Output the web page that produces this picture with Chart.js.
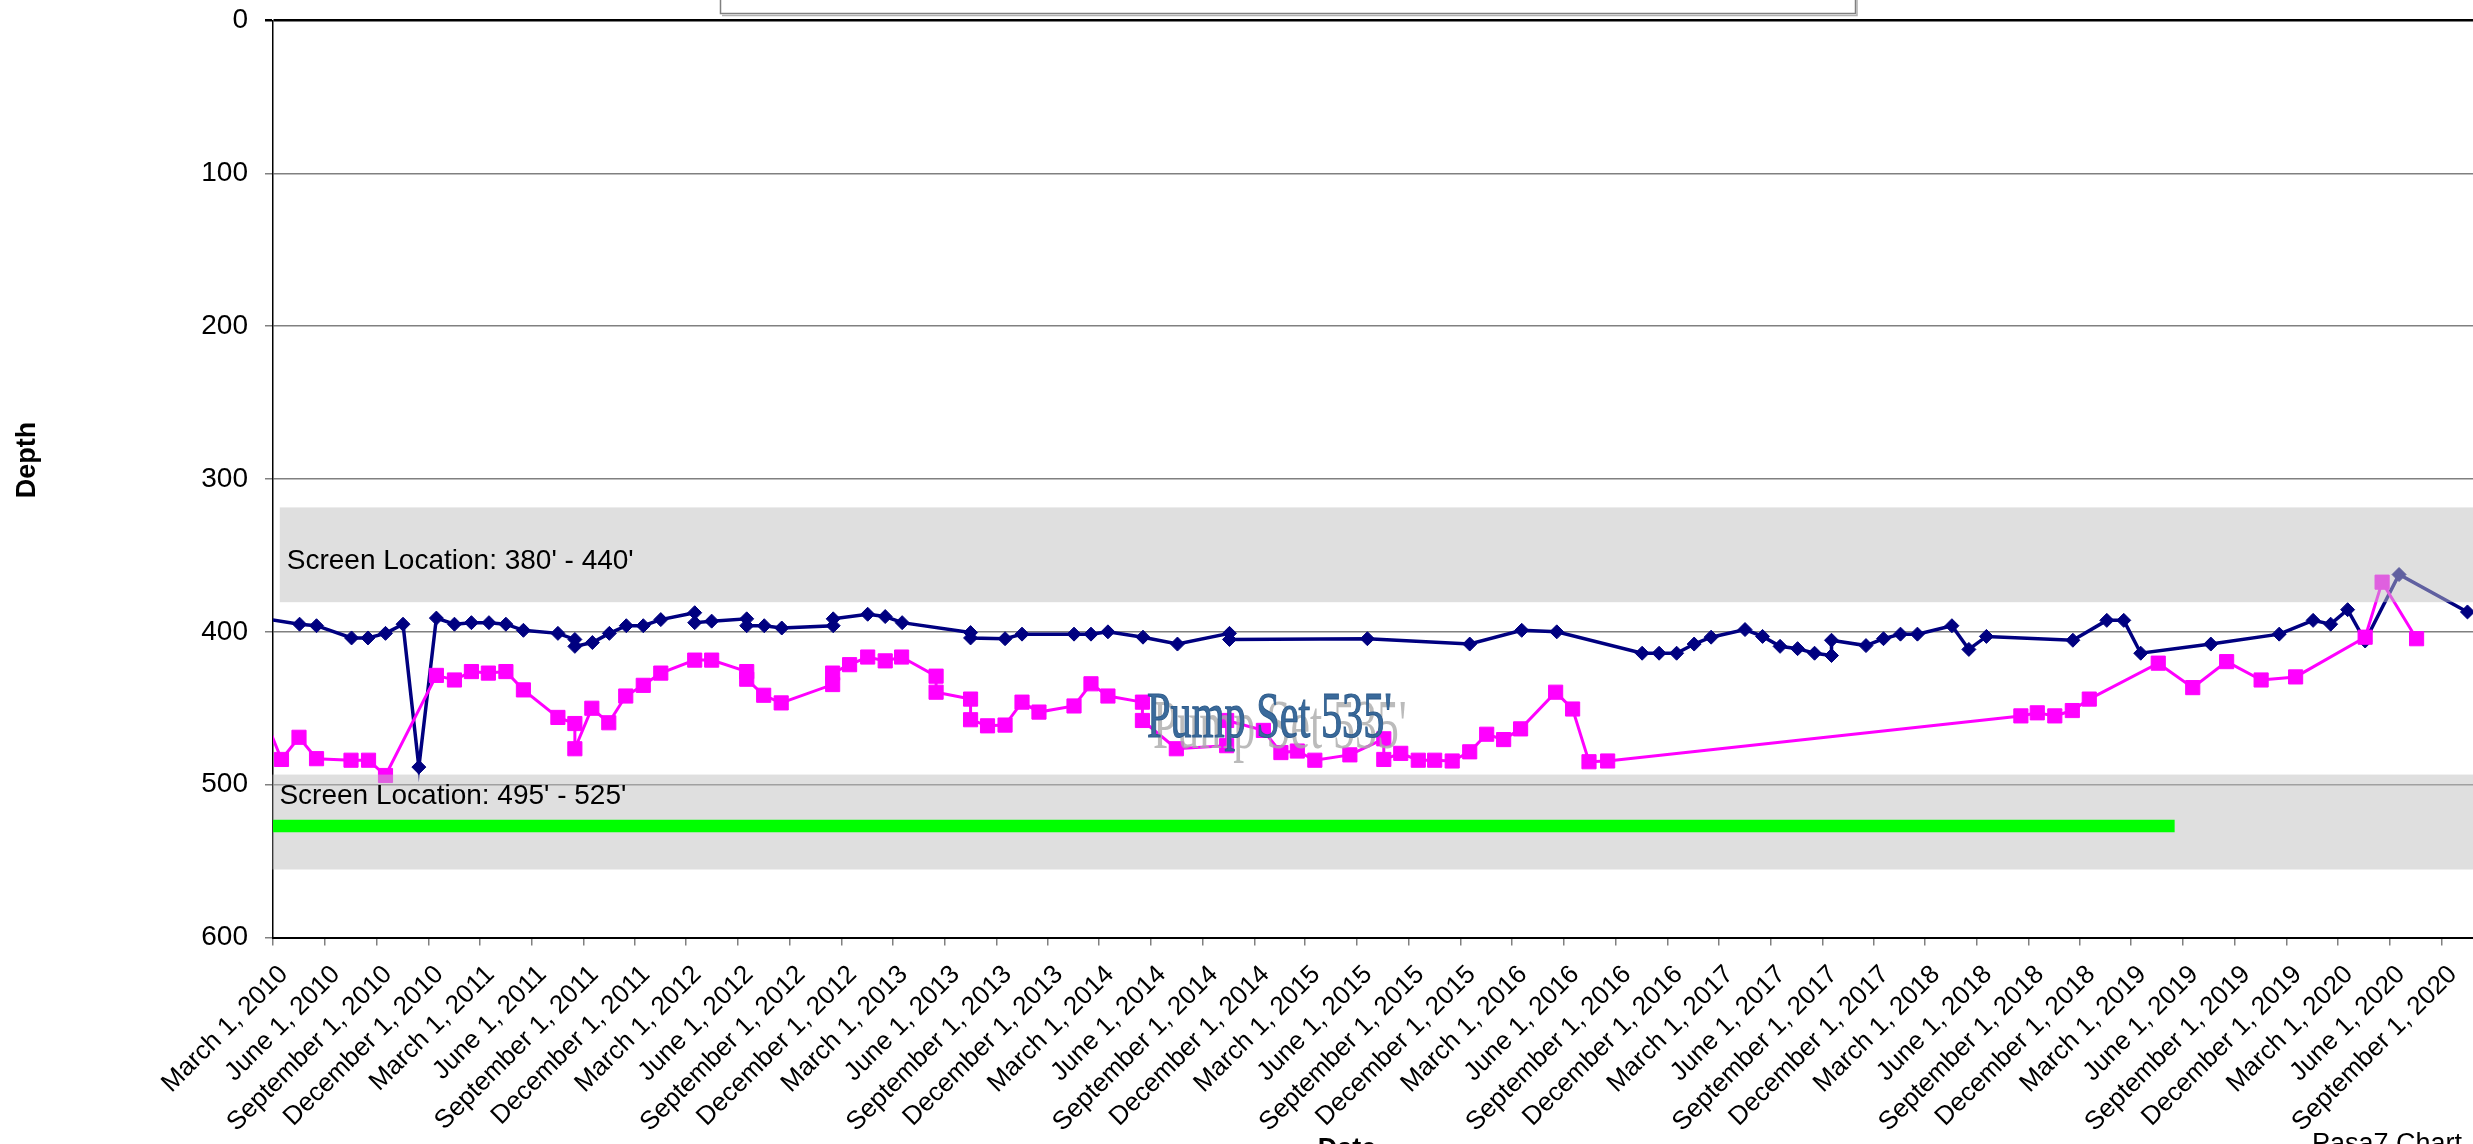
<!DOCTYPE html>
<html>
<head>
<meta charset="utf-8">
<script src="https://cdn.jsdelivr.net/npm/chart.js@4.4.1/dist/chart.umd.min.js"></script>
<style>
html,body{margin:0;padding:0;background:#fff;overflow:hidden}
canvas{display:block}
</style>
</head>
<body>
<canvas id="c" width="2473" height="1144"></canvas>
<script>
// ---------- data ----------
const tickLabels = [
 "March 1, 2010","June 1, 2010","September 1, 2010","December 1, 2010",
 "March 1, 2011","June 1, 2011","September 1, 2011","December 1, 2011",
 "March 1, 2012","June 1, 2012","September 1, 2012","December 1, 2012",
 "March 1, 2013","June 1, 2013","September 1, 2013","December 1, 2013",
 "March 1, 2014","June 1, 2014","September 1, 2014","December 1, 2014",
 "March 1, 2015","June 1, 2015","September 1, 2015","December 1, 2015",
 "March 1, 2016","June 1, 2016","September 1, 2016","December 1, 2016",
 "March 1, 2017","June 1, 2017","September 1, 2017","December 1, 2017",
 "March 1, 2018","June 1, 2018","September 1, 2018","December 1, 2018",
 "March 1, 2019","June 1, 2019","September 1, 2019","December 1, 2019",
 "March 1, 2020","June 1, 2020","September 1, 2020"
];
const depthTicks = [0,100,200,300,400,500,600];

const staticDates = [
 "2010-02-15","2010-04-17","2010-05-17","2010-07-18","2010-08-16","2010-09-16","2010-10-17","2010-11-14","2010-12-15",
 "2011-01-16","2011-02-15","2011-03-18","2011-04-17","2011-05-18","2011-07-18","2011-08-17","2011-08-17","2011-09-17",
 "2011-10-17","2011-11-16","2011-12-16","2012-01-16","2012-03-16","2012-03-16","2012-04-15","2012-06-16","2012-06-16",
 "2012-07-17","2012-08-17","2012-11-16","2012-11-16","2013-01-16","2013-02-16","2013-03-18","2013-07-17","2013-07-17",
 "2013-09-16","2013-10-16","2014-01-16","2014-02-15","2014-03-17","2014-05-18","2014-07-18","2014-10-18","2014-10-18",
 "2015-06-19","2015-12-17","2016-03-18","2016-05-19","2016-10-17","2016-11-16","2016-12-17","2017-01-17","2017-02-16",
 "2017-04-17","2017-05-18","2017-06-18","2017-07-19","2017-08-18","2017-09-17","2017-09-17","2017-11-17","2017-12-18",
 "2018-01-17","2018-02-16","2018-04-18","2018-05-18","2018-06-18","2018-11-18","2019-01-17","2019-02-16","2019-03-18",
 "2019-07-20","2019-11-18","2020-01-17","2020-02-17","2020-03-18","2020-04-18","2020-06-17","2020-10-16"
];
const staticDepths = [
 391.5,395,396,404,404,401,395,488.5,391,
 395,394,394,395,399,401,405,409.5,407,
 401,396,396,392,387.5,394,393,391.5,396,
 396,397.5,396,391.5,388.5,390,394,400.5,404,
 404.5,401.5,401.5,401.5,400,403.5,408,401,405,
 404.5,408,399,400,414,414,414,408,403.5,
 398.5,403,409.5,411,414,415.5,405.5,409,404.5,
 401.5,401.5,396,411.5,403,405.5,392.5,392.5,414,
 408,401.5,392.5,395,385.5,406,362.5,387
];

const pumpingDates = [
 "2010-02-15","2010-03-16","2010-04-16","2010-05-17","2010-07-17","2010-08-17","2010-09-16","2010-12-15",
 "2011-01-16","2011-02-15","2011-03-17","2011-04-17","2011-05-18","2011-07-18","2011-08-17","2011-08-17",
 "2011-09-16","2011-10-16","2011-11-15","2011-12-16","2012-01-16","2012-03-16","2012-04-15","2012-06-16",
 "2012-06-16","2012-07-16","2012-08-16","2012-11-15","2012-11-15","2012-12-15","2013-01-16","2013-02-16",
 "2013-03-17","2013-05-17","2013-05-17","2013-07-17","2013-07-17","2013-08-16","2013-09-16","2013-10-16",
 "2013-11-15","2014-01-16","2014-02-15","2014-03-17","2014-05-17","2014-05-17","2014-07-16","2014-10-13",
 "2014-10-13","2014-12-17","2015-01-17","2015-02-15","2015-03-18","2015-05-19","2015-07-18","2015-07-18",
 "2015-08-17","2015-09-17","2015-10-16","2015-11-16","2015-12-17","2016-01-16","2016-02-15","2016-03-16",
 "2016-05-17","2016-06-16","2016-07-15","2016-08-17","2018-08-18","2018-09-16","2018-10-17","2018-11-17",
 "2018-12-17","2019-04-18","2019-06-18","2019-08-17","2019-10-17","2019-12-17","2020-04-18","2020-05-18",
 "2020-07-18"
];
const pumpingDepths = [
 457,483.5,469,483,484,484,494,428.5,
 431.5,426,427,426,438,456,460,476.5,
 450,459.5,442,435,427,418.5,418.5,426,
 431,441.5,446.5,434.5,427,421.5,416.5,419,
 416.5,429,439.5,444,457.5,461.5,461,446,
 452.5,448.5,434,442,446,458,476.5,474.5,
 458,464.5,479,478,484,480.5,470,483.5,
 479.5,484,484,484.5,478.5,467,470.5,463.5,
 439.5,450.5,485,484.5,455,453,455,451.5,
 444,420.5,436.5,419.5,431.5,429.5,403.5,367.5,
 404.5
];

const pumpSetDates = ["2010-02-26","2019-05-17"];
const pumpSetDepths = [527,527];

const screenStart = ["2010-03-13","2010-02-28"];
const screenTop = [318.6,493.4];
const screenBottom = [380.6,555.5];
const screenLabels = ["Screen Location: 380' - 440'","Screen Location: 495' - 525'"];
const pumpSetLabel = "Pump Set 535'";

// ---------- helpers ----------
const MONTHS = ["January","February","March","April","May","June","July","August","September","October","November","December"];
function dayNum(s){ const p = s.split("-").map(Number); return Date.UTC(p[0],p[1]-1,p[2])/86400000; }
function labelDay(l){ const m = l.match(/^(\w+) (\d+), (\d+)$/); return Date.UTC(+m[3], MONTHS.indexOf(m[1]), +m[2])/86400000; }
const tickDays = tickLabels.map(labelDay);
const X0 = labelDay("March 1, 2010");
const XMAX = X0 + 3891.8;
const FONT = '"Liberation Sans", Arial, sans-serif';
const SERIF = '"Liberation Serif", "Times New Roman", serif';

// ---------- plugins ----------
const bandOverlay = {
  id:'bandOverlay',
  afterDatasetDraw(chart, args){
    if (chart.data.datasets[args.index].label !== 'Pumping Level') return;
    const ctx = chart.ctx, x = chart.scales.x, y = chart.scales.y;
    ctx.save();
    ctx.fillStyle = 'rgba(192,192,192,0.5)';
    for (let i = 0; i < screenTop.length; i++){
      const x1 = x.getPixelForValue(dayNum(screenStart[i]));
      const y1 = y.getPixelForValue(screenTop[i]);
      const y2 = y.getPixelForValue(screenBottom[i]);
      ctx.fillRect(x1, y1, chart.width - x1, y2 - y1);
    }
    ctx.restore();
  }
};

const annotations = {
  id:'annotations',
  afterDatasetsDraw(chart){
    const ctx = chart.ctx, x = chart.scales.x, y = chart.scales.y;
    ctx.save();
    ctx.fillStyle = '#000';
    ctx.font = '28px ' + FONT;
    ctx.textAlign = 'left';
    ctx.textBaseline = 'alphabetic';
    const offs = [62, 29];
    for (let i = 0; i < screenLabels.length; i++){
      const x1 = x.getPixelForValue(dayNum(screenStart[i]));
      const y1 = y.getPixelForValue(screenTop[i]);
      ctx.fillText(screenLabels[i], x1 + 7, y1 + offs[i]);
    }
    function stretched(txt, px, py, size, sy, color, stroke){
      ctx.save();
      ctx.translate(px, py);
      ctx.scale(1, sy);
      ctx.font = size + 'px ' + SERIF;
      ctx.fillStyle = color;
      ctx.fillText(txt, 0, 0);
      if (stroke){ ctx.strokeStyle = stroke; ctx.lineWidth = 0.8; ctx.strokeText(txt, 0, 0); }
      ctx.restore();
    }
    stretched(pumpSetLabel, 1153, 748, 43.8, 1.58, 'rgba(170,170,170,0.8)');
    stretched(pumpSetLabel, 1147, 737, 42.3, 1.54, '#3a6a9b', '#2f5d8c');
    ctx.restore();
  },
  afterDraw(chart){
    const ctx = chart.ctx;
    ctx.save();
    // top box (cut off by the page edge)
    ctx.fillStyle = '#fff';
    ctx.fillRect(720, -20, 1136, 34);
    ctx.strokeStyle = '#808080';
    ctx.lineWidth = 1.5;
    ctx.strokeRect(720.5, -20, 1135, 33.5);
    ctx.strokeStyle = '#b0b0b0';
    ctx.beginPath(); ctx.moveTo(722, 15.5); ctx.lineTo(1857, 15.5); ctx.lineTo(1857, -5); ctx.stroke();
    // axis titles
    ctx.fillStyle = '#000';
    ctx.font = 'bold 27px ' + FONT;
    ctx.textAlign = 'center';
    ctx.textBaseline = 'middle';
    ctx.save();
    ctx.translate(28, 460);
    ctx.rotate(-Math.PI/2);
    ctx.fillText('Depth', 0, 0);
    ctx.restore();
    ctx.textBaseline = 'top';
    ctx.fillText('Date', 1347, 1136);
    ctx.font = '27px ' + FONT;
    ctx.textAlign = 'left';
    ctx.fillText('Pasa7 Chart', 2312, 1131);
    ctx.restore();
  }
};

// ---------- chart ----------
const staticPts = staticDates.map((d,i)=>({x:dayNum(d), y:staticDepths[i]}));
const pumpingPts = pumpingDates.map((d,i)=>({x:dayNum(d), y:pumpingDepths[i]}));
const pumpSetPts = pumpSetDates.map((d,i)=>({x:dayNum(d), y:pumpSetDepths[i]}));

new Chart(document.getElementById('c'), {
  type:'line',
  data:{
    datasets:[
      {label:'Static Level', data:staticPts, borderColor:'#000080', backgroundColor:'#000080',
       borderWidth:3.5, pointStyle:'rectRot', pointRadius:7, pointBorderWidth:1,
       pointBackgroundColor:'#000080', pointBorderColor:'#000080', tension:0, order:2, clip:0},
      {label:'Pumping Level', data:pumpingPts, borderColor:'#ff00ff', backgroundColor:'#ff00ff',
       borderWidth:3, pointStyle:'rect', pointRadius:10, pointBorderWidth:1,
       pointBackgroundColor:'#ff00ff', pointBorderColor:'#ff00ff', tension:0, order:1, clip:0},
      {label:'Pump Set', data:pumpSetPts, borderColor:'#00ff00', borderWidth:12.5,
       pointRadius:0, borderCapStyle:'butt', tension:0, order:0}
    ]
  },
  options:{
    responsive:false, animation:false, devicePixelRatio:1,
    layout:{autoPadding:false, padding:{top:20.5, right:0, bottom:0, left:0}},
    plugins:{legend:{display:false}, tooltip:{enabled:false}, title:{display:false}},
    scales:{
      x:{
        type:'linear', min:X0, max:XMAX,
        afterBuildTicks:(s)=>{ s.ticks = tickDays.map(v=>({value:v})); },
        afterFit:(s)=>{ s.height = 206.5; s.paddingLeft = 0; s.paddingRight = 0; },
        ticks:{autoSkip:false, maxRotation:45, minRotation:45, padding:14, labelOffset:11, color:'#000',
               font:{family:FONT, size:26},
               callback:(v,i)=>tickLabels[i]},
        grid:{drawOnChartArea:false, drawTicks:true, tickLength:8, color:'#808080', lineWidth:1.5},
        border:{color:'#000', width:2}
      },
      y:{
        reverse:true, min:0, max:600,
        afterBuildTicks:(s)=>{ s.ticks = depthTicks.map(v=>({value:v})); },
        afterFit:(s)=>{ s.width = 273; s.paddingTop = 0; s.paddingBottom = 0; },
        ticks:{color:'#000', padding:17, font:{family:FONT, size:28}},
        grid:{tickLength:8,
              color:(c)=> (c.tick && c.tick.value===0) ? '#000' : '#808080',
              lineWidth:(c)=> (c.tick && c.tick.value===0) ? 2.5 : 1.5},
        border:{color:'#000', width:1.5}
      }
    }
  },
  plugins:[bandOverlay, annotations]
});
</script>
</body>
</html>
